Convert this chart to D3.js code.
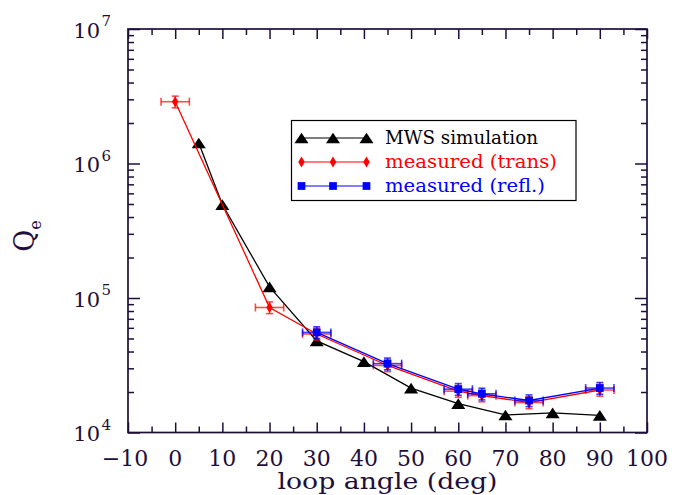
<!DOCTYPE html>
<html>
<head>
<meta charset="utf-8">
<script src="https://cdn.jsdelivr.net/npm/d3@7"></script>
<style>
  html, body { margin: 0; padding: 0; background: #fff; }
  svg { display: block; }
</style>
</head>
<body>
<svg id="chart" width="680" height="495"></svg>
<script>
// ---- data ----
const simAngles   = [5, 10, 20, 30, 40, 50, 60, 70, 80, 90];
const simQ        = [1.42e6, 4.95e5, 1.21e5, 4.8e4, 3.36e4, 2.14e4, 1.64e4, 1.35e4, 1.40e4, 1.34e4];
const transAngles = [0, 20, 30, 45, 60, 65, 75, 90];
const transQ      = [2.88e6, 8.5e4, 5.4e4, 3.15e4, 2.03e4, 1.88e4, 1.67e4, 2.07e4];
const reflAngles  = [30, 45, 60, 65, 75, 90];
const reflQ       = [5.55e4, 3.25e4, 2.1e4, 1.94e4, 1.73e4, 2.14e4];
const angleErr    = 3;      // deg
const qRelErr     = 0.10;   // relative
const xTicks      = [-10, 0, 10, 20, 30, 40, 50, 60, 70, 80, 90, 100];
const xTickLabels = ["\u221210", "0", "10", "20", "30", "40", "50", "60", "70", "80", "90", "100"];
const yDecades    = [4, 5, 6, 7];
const legendLabels = ["MWS simulation", "measured (trans)", "measured (refl.)"];

// ---- layout ----
const svg = d3.select("#chart");
const L = 128, R = 647, T = 29, B = 432.5;
const axisColor = "#1e0f3a";
const font = "'DejaVu Serif', 'Liberation Serif', serif";

const x = d3.scaleLinear().domain([-10, 100]).range([L, R]);
const y = d3.scaleLog().domain([1e4, 1e7]).range([B, T]);

const xMinor = d3.range(-5, 100, 10);
const yMajor = yDecades.map(d => Math.pow(10, d));
const yMinor = [];
yDecades.slice(0, 3).forEach(d => { for (let k = 2; k <= 9; k++) yMinor.push(k * Math.pow(10, d)); });

function styleAxis(g) {
  g.select(".domain").remove();
  g.selectAll(".tick line").attr("stroke", axisColor).attr("stroke-width", 1.5);
  g.selectAll(".tick text").remove();
}
// bottom / top
svg.append("g").attr("transform", `translate(0,${B})`)
  .call(d3.axisBottom(x).tickValues(xTicks).tickSize(-10)).call(styleAxis);
svg.append("g").attr("transform", `translate(0,${B})`)
  .call(d3.axisBottom(x).tickValues(xMinor).tickSize(-6)).call(styleAxis);
svg.append("g").attr("transform", `translate(0,${T})`)
  .call(d3.axisTop(x).tickValues(xTicks).tickSize(-10)).call(styleAxis);
svg.append("g").attr("transform", `translate(0,${T})`)
  .call(d3.axisTop(x).tickValues(xMinor).tickSize(-6)).call(styleAxis);
// left / right
svg.append("g").attr("transform", `translate(${L},0)`)
  .call(d3.axisLeft(y).tickValues(yMajor).tickSize(-12)).call(styleAxis);
svg.append("g").attr("transform", `translate(${L},0)`)
  .call(d3.axisLeft(y).tickValues(yMinor).tickSize(-6)).call(styleAxis);
svg.append("g").attr("transform", `translate(${R},0)`)
  .call(d3.axisRight(y).tickValues(yMajor).tickSize(-12)).call(styleAxis);
svg.append("g").attr("transform", `translate(${R},0)`)
  .call(d3.axisRight(y).tickValues(yMinor).tickSize(-6)).call(styleAxis);

// frame
svg.append("rect").attr("x", L).attr("y", T).attr("width", R - L).attr("height", B - T)
  .attr("fill", "none").attr("stroke", axisColor).attr("stroke-width", 1.7);

// x tick labels
svg.append("g").selectAll("text").data(xTicks).join("text")
  .attr("x", (d, i) => x(d) - (i === 0 ? 3 : 0))
  .attr("y", 466)
  .attr("text-anchor", "middle")
  .attr("font-family", font).attr("font-size", 22).attr("fill", axisColor)
  .text((d, i) => xTickLabels[i]);

// y tick labels (10^n)
const yl = svg.append("g").selectAll("g").data(yDecades).join("g");
yl.append("text")
  .attr("x", 100).attr("y", d => y(Math.pow(10, d)) + 8.5)
  .attr("text-anchor", "end")
  .attr("font-family", font).attr("font-size", 21).attr("fill", axisColor)
  .text("10");
yl.append("text")
  .attr("x", 101.5).attr("y", d => y(Math.pow(10, d)) - 3)
  .attr("font-family", font).attr("font-size", 15).attr("fill", axisColor)
  .text(d => d);

// axis titles
svg.append("text")
  .attr("x", (L + R) / 2).attr("y", 489)
  .attr("text-anchor", "middle")
  .attr("font-family", font).attr("font-size", 22).attr("fill", axisColor)
  .attr("textLength", 220).attr("lengthAdjust", "spacingAndGlyphs")
  .text("loop angle (deg)");
const yt = svg.append("text")
  .attr("transform", "translate(34,236) rotate(-90)")
  .attr("text-anchor", "middle")
  .attr("font-family", font).attr("fill", axisColor);
yt.append("tspan").attr("font-size", 27).text("Q");
yt.append("tspan").attr("font-size", 16).attr("dy", 7).text("e");

// symbols
const triangleMid = {
  draw(ctx, size) {
    const w = Math.sqrt(size * 4 / Math.sqrt(3)) ; // side
    const h = w * Math.sqrt(3) / 2 * 0.88;
    ctx.moveTo(0, -h / 2);
    ctx.lineTo(w / 2, h / 2);
    ctx.lineTo(-w / 2, h / 2);
    ctx.closePath();
  }
};
const triSym = d3.symbol().type(triangleMid).size(85);
const diaSym = d3.symbol().type(d3.symbolDiamond).size(36);
const sqSym  = d3.symbol().type(d3.symbolSquare).size(60);

const line = d3.line().x(d => x(d[0])).y(d => y(d[1]));
const simData   = simAngles.map((a, i) => [a, simQ[i]]);
const transData = transAngles.map((a, i) => [a, transQ[i]]);
const reflData  = reflAngles.map((a, i) => [a, reflQ[i]]);

function errorBars(data, color, opacity) {
  const g = svg.append("g").attr("stroke", color).attr("stroke-opacity", opacity).attr("stroke-width", 1.6).attr("fill", "none");
  data.forEach(d => {
    const cx = x(d[0]), cy = y(d[1]);
    const x0 = x(d[0] - angleErr), x1 = x(d[0] + angleErr);
    const y0 = y(d[1] * (1 - qRelErr)), y1 = y(d[1] * (1 + qRelErr));
    g.append("line").attr("x1", x0).attr("x2", x1).attr("y1", cy).attr("y2", cy);
    g.append("line").attr("x1", x0).attr("x2", x0).attr("y1", cy - 4).attr("y2", cy + 4);
    g.append("line").attr("x1", x1).attr("x2", x1).attr("y1", cy - 4).attr("y2", cy + 4);
    g.append("line").attr("x1", cx).attr("x2", cx).attr("y1", y0).attr("y2", y1);
    g.append("line").attr("x1", cx - 3.5).attr("x2", cx + 3.5).attr("y1", y0).attr("y2", y0);
    g.append("line").attr("x1", cx - 3.5).attr("x2", cx + 3.5).attr("y1", y1).attr("y2", y1);
  });
}

// simulation
svg.append("path").datum(simData).attr("d", line)
  .attr("fill", "none").attr("stroke", "#000").attr("stroke-width", 1.3);
svg.append("g").selectAll("path").data(simData).join("path")
  .attr("transform", d => `translate(${x(d[0])},${y(d[1])})`)
  .attr("d", triSym).attr("fill", "#000");

// trans
svg.append("path").datum(transData).attr("d", line)
  .attr("fill", "none").attr("stroke", "#ff0000").attr("stroke-width", 1.3);
errorBars(transData, "#ff0000", 0.7);
svg.append("g").selectAll("path").data(transData).join("path")
  .attr("transform", d => `translate(${x(d[0])},${y(d[1])})`)
  .attr("d", diaSym).attr("fill", "#ff0000");

// refl
svg.append("path").datum(reflData).attr("d", line)
  .attr("fill", "none").attr("stroke", "#0000ff").attr("stroke-width", 1.3);
errorBars(reflData, "#0000ff", 0.75);
svg.append("g").selectAll("path").data(reflData).join("path")
  .attr("transform", d => `translate(${x(d[0])},${y(d[1])})`)
  .attr("d", sqSym).attr("fill", "#0000ff");

// legend
const lg = svg.append("g");
lg.append("rect").attr("x", 291.5).attr("y", 120.5).attr("width", 284.5).attr("height", 80)
  .attr("fill", "#fff").attr("stroke", "#000").attr("stroke-width", 1.2);
const legColors = ["#000", "#ff0000", "#0000ff"];
const legSyms = [triSym, diaSym, sqSym];
const rowY = [138, 162, 186];
const lx = [301.5, 333, 366.5];
legendLabels.forEach((lab, i) => {
  lg.append("line").attr("x1", lx[0]).attr("x2", lx[2]).attr("y1", rowY[i]).attr("y2", rowY[i])
    .attr("stroke", legColors[i]).attr("stroke-width", 1.2);
  lx.forEach(px => {
    lg.append("path").attr("transform", `translate(${px},${rowY[i]})`)
      .attr("d", legSyms[i]).attr("fill", legColors[i]);
  });
  lg.append("text").attr("x", 385).attr("y", rowY[i] + 6)
    .attr("font-family", font).attr("font-size", 18).attr("fill", legColors[i])
    .attr("textLength", i === 0 ? 153 : (i === 1 ? 172 : 160)).attr("lengthAdjust", "spacingAndGlyphs")
    .text(lab);
});
</script>
</body>
</html>
